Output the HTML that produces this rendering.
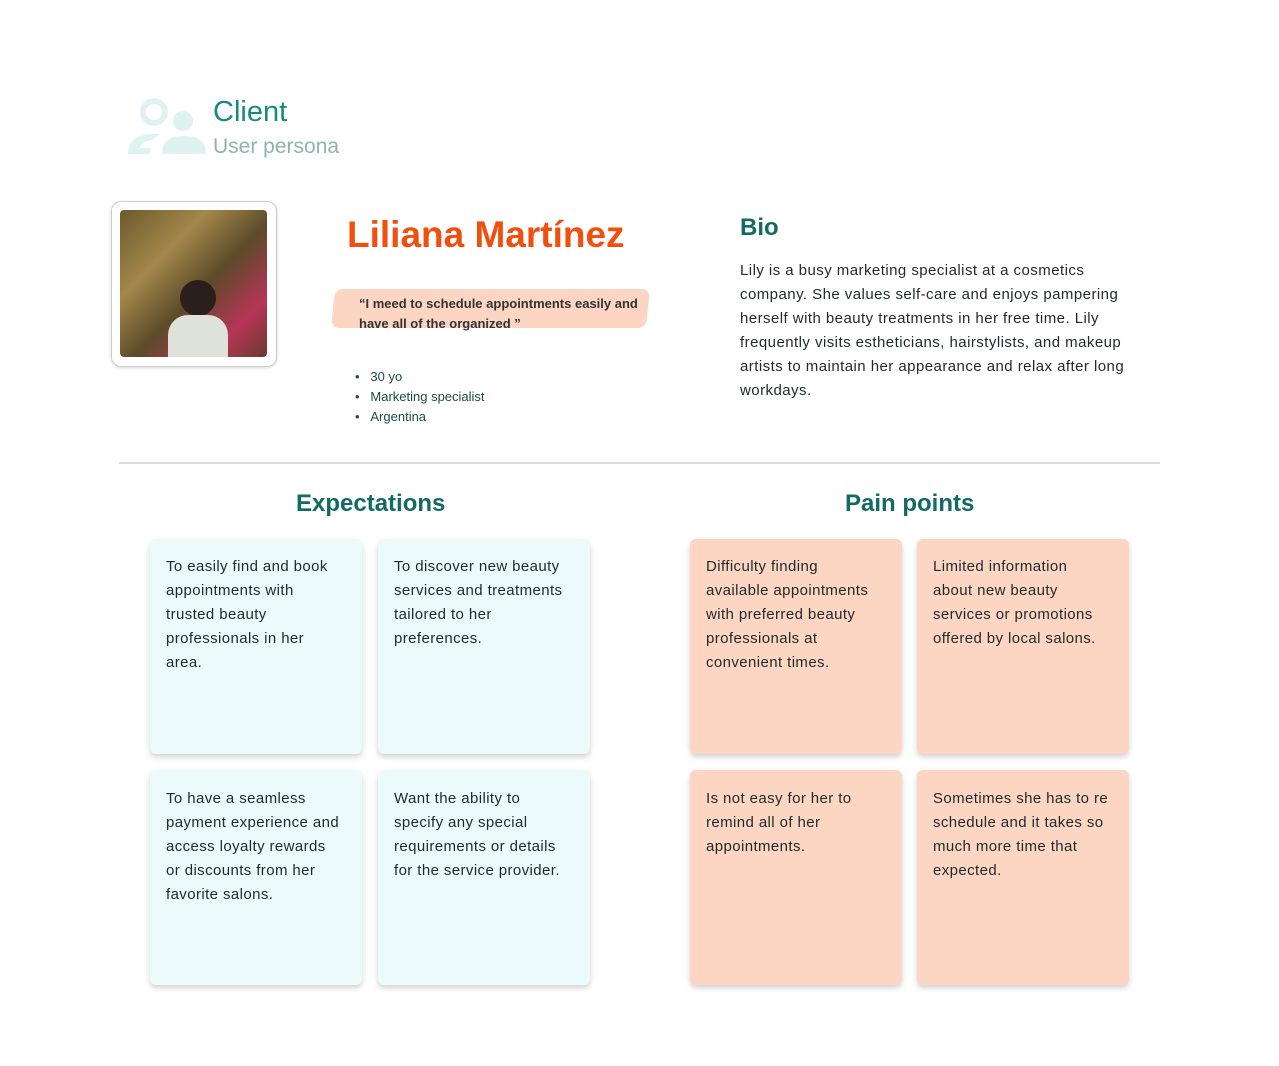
<!DOCTYPE html>
<html><head><meta charset="utf-8"><style>
body{margin:0;width:1279px;height:1066px;background:#fff;font-family:"Liberation Sans",sans-serif;position:relative;overflow:hidden}
.a{position:absolute}
.card{position:absolute;width:212px;height:215px;border-radius:6px;box-shadow:0 3px 6px rgba(0,0,0,.18);box-sizing:border-box;padding:16px 4px 0 16px;font-size:15px;line-height:24px;color:#1e2a2a;letter-spacing:.4px;white-space:nowrap}
.e{background:#ecfafb}.p{background:#fdd5c3}
h2{margin:0;position:absolute;font-size:24px;color:#136a64;font-weight:bold}
</style></head><body>
<svg class="a" style="left:126px;top:98px" width="82" height="58">
<circle cx="28" cy="14" r="11" fill="none" stroke="#dff2f2" stroke-width="6"/>
<path d="M2 56 q0-18 22-20 h10 l-8 6 q-12 2-12 8 h10 v6z" fill="#dff2f2"/>
<circle cx="57" cy="23" r="10" fill="#dff2f2"/>
<path d="M36 56 q0-18 20-18 h4 q20 0 20 18z" fill="#dff2f2"/>
</svg>
<div class="a" style="left:213px;top:96px;font-size:29px;color:#168a80">Client</div>
<div class="a" style="left:213px;top:135px;font-size:21px;color:#8fb3b1">User persona</div>
<div class="a" style="left:111px;top:201px;width:164px;height:164px;border:1px solid #ccc;border-radius:10px;box-shadow:0 1px 3px rgba(0,0,0,.15);background:#fff"></div>
<div class="a" style="left:120px;top:210px;width:147px;height:147px;border-radius:4px;background:linear-gradient(135deg,#6b5a2e,#a4874a 30%,#5c4a2a 55%,#b73556 80%,#6a3b2f);overflow:hidden">
<div class="a" style="left:60px;top:70px;width:36px;height:36px;border-radius:50%;background:#2a1f1a"></div>
<div class="a" style="left:48px;top:105px;width:60px;height:50px;border-radius:20px 20px 0 0;background:#dfe2d8"></div>
</div>
<div class="a" style="left:347px;top:214px;font-size:37px;font-weight:bold;color:#f0500f">Liliana Martínez</div>
<div class="a" style="left:333px;top:289px;width:315px;height:39px;background:#fdd5c3;border-radius:8px;transform:skewX(-6deg)"></div>
<div class="a" style="left:359px;top:294px;font-size:13px;line-height:20px;color:#333;font-weight:bold;width:290px">“I meed to schedule appointments easily and have all of the organized ”</div>
<div class="a" style="left:355px;top:367px;font-size:13px;line-height:20px;color:#1d4a48">
<div>•&nbsp;&nbsp;&nbsp;30 yo</div><div>•&nbsp;&nbsp;&nbsp;Marketing specialist</div><div>•&nbsp;&nbsp;&nbsp;Argentina</div></div>
<div class="a" style="left:740px;top:214px;font-size:24px;font-weight:bold;color:#136a64">Bio</div>
<div class="a" style="left:740px;top:259px;font-size:15px;line-height:24px;color:#1e2a2a;letter-spacing:.45px;white-space:nowrap">Lily is a busy marketing specialist at a cosmetics<br>company. She values self-care and enjoys pampering<br>herself with beauty treatments in her free time. Lily<br>frequently visits estheticians, hairstylists, and makeup<br>artists to maintain her appearance and relax after long<br>workdays.</div>
<div class="a" style="left:119px;top:462px;width:1041px;height:2px;background:#ddd"></div>
<h2 style="left:296px;top:490px">Expectations</h2>
<h2 style="left:845px;top:490px">Pain points</h2>
<div class="card e" style="left:150px;top:539px">To easily find and book<br>appointments with<br>trusted beauty<br>professionals in her<br>area.</div>
<div class="card e" style="left:378px;top:539px">To discover new beauty<br>services and treatments<br>tailored to her<br>preferences.</div>
<div class="card e" style="left:150px;top:770px;padding-top:17px">To have a seamless<br>payment experience and<br>access loyalty rewards<br>or discounts from her<br>favorite salons.</div>
<div class="card e" style="left:378px;top:770px;padding-top:17px">Want the ability to<br>specify any special<br>requirements or details<br>for the service provider.</div>
<div class="card p" style="left:690px;top:539px">Difficulty finding<br>available appointments<br>with preferred beauty<br>professionals at<br>convenient times.</div>
<div class="card p" style="left:917px;top:539px">Limited information<br>about new beauty<br>services or promotions<br>offered by local salons.</div>
<div class="card p" style="left:690px;top:770px;padding-top:17px">Is not easy for her to<br>remind all of her<br>appointments.</div>
<div class="card p" style="left:917px;top:770px;padding-top:17px">Sometimes she has to re<br>schedule and it takes so<br>much more time that<br>expected.</div>
</body></html>
